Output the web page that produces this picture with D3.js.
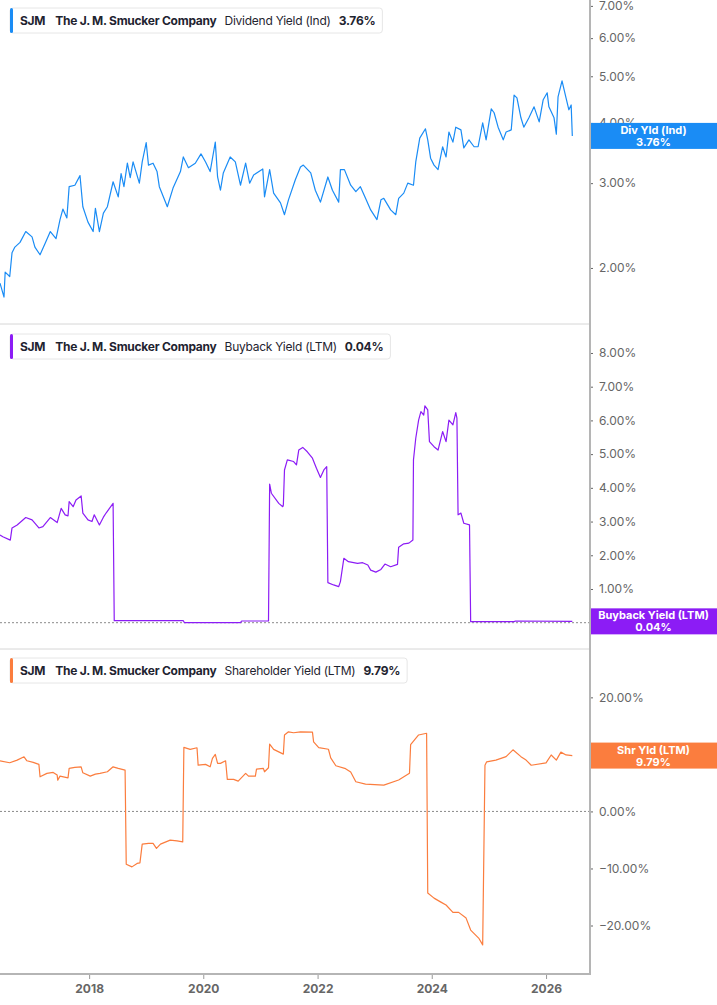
<!DOCTYPE html>
<html>
<head>
<meta charset="utf-8">
<script src="https://cdn.jsdelivr.net/npm/d3@7"></script>
<style>
  body { margin: 0; background: #fff; }
  svg { display: block; font-family: Inter, "Noto Sans", sans-serif; }
</style>
</head>
<body>
<svg id="chart" width="717" height="1005"></svg>
<script>
// data (decimal year, percent)
const divYield = [
  [2016.44, 1.86], [2016.51, 1.74], [2016.53, 1.96], [2016.61, 1.92], [2016.65, 2.15],
  [2016.70, 2.21], [2016.79, 2.26], [2016.89, 2.38], [2017.00, 2.32], [2017.05, 2.21],
  [2017.14, 2.13], [2017.23, 2.25], [2017.32, 2.38], [2017.42, 2.30], [2017.49, 2.52],
  [2017.54, 2.65], [2017.61, 2.54], [2017.65, 2.95], [2017.75, 2.97], [2017.84, 3.11],
  [2017.89, 2.68], [2017.98, 2.49], [2018.07, 2.38], [2018.11, 2.66], [2018.18, 2.38],
  [2018.25, 2.60], [2018.32, 2.68], [2018.42, 3.02], [2018.51, 2.81], [2018.56, 3.14],
  [2018.61, 2.95], [2018.67, 3.30], [2018.72, 3.08], [2018.77, 3.32], [2018.88, 3.00],
  [2018.93, 3.32], [2019.00, 3.64], [2019.04, 3.27], [2019.12, 3.30], [2019.19, 3.17],
  [2019.23, 2.95], [2019.37, 2.68], [2019.47, 2.93], [2019.60, 3.17], [2019.65, 3.40],
  [2019.74, 3.23], [2019.86, 3.30], [2019.96, 3.45], [2020.04, 3.32], [2020.12, 3.17],
  [2020.21, 3.65], [2020.25, 3.09], [2020.30, 2.90], [2020.35, 3.15], [2020.47, 3.40],
  [2020.56, 3.32], [2020.65, 2.97], [2020.74, 3.30], [2020.81, 3.00], [2020.88, 3.12],
  [2021.04, 3.21], [2021.07, 2.81], [2021.16, 3.20], [2021.23, 2.86], [2021.35, 2.73],
  [2021.42, 2.58], [2021.49, 2.77], [2021.61, 3.05], [2021.70, 3.24], [2021.75, 3.27],
  [2021.88, 3.15], [2021.96, 2.90], [2022.05, 2.74], [2022.18, 3.09], [2022.26, 2.90],
  [2022.37, 2.74], [2022.40, 3.20], [2022.47, 3.20], [2022.58, 2.97], [2022.67, 2.88],
  [2022.75, 2.95], [2022.84, 2.79], [2022.93, 2.64], [2023.04, 2.52], [2023.11, 2.77],
  [2023.16, 2.79], [2023.28, 2.64], [2023.37, 2.58], [2023.42, 2.79], [2023.51, 2.86],
  [2023.58, 3.00], [2023.68, 2.97], [2023.72, 3.32], [2023.79, 3.72], [2023.89, 3.89],
  [2023.93, 3.69], [2023.98, 3.38], [2024.04, 3.27], [2024.11, 3.20], [2024.19, 3.57],
  [2024.25, 3.40], [2024.30, 3.83], [2024.37, 3.65], [2024.42, 3.92], [2024.51, 3.87],
  [2024.56, 3.55], [2024.65, 3.69], [2024.74, 3.57], [2024.81, 3.57], [2024.89, 4.00],
  [2024.95, 3.69], [2025.04, 4.28], [2025.09, 4.20], [2025.16, 3.92], [2025.25, 3.69],
  [2025.30, 3.83], [2025.39, 3.87], [2025.44, 4.57], [2025.49, 4.51], [2025.56, 4.10],
  [2025.61, 3.92], [2025.70, 4.10], [2025.79, 4.32], [2025.88, 4.02], [2025.95, 4.47],
  [2026.02, 4.62], [2026.05, 4.32], [2026.14, 4.10], [2026.18, 3.79], [2026.21, 4.53],
  [2026.28, 4.89], [2026.35, 4.51], [2026.40, 4.26], [2026.44, 4.36], [2026.46, 3.76]
];

const buybackYield = [
  [2016.44, 2.60], [2016.49, 2.55], [2016.62, 2.45], [2016.65, 2.81], [2016.74, 2.90],
  [2016.89, 3.12], [2017.00, 3.05], [2017.12, 2.81], [2017.19, 2.85], [2017.32, 3.12],
  [2017.44, 2.97], [2017.51, 3.39], [2017.58, 3.20], [2017.63, 3.17], [2017.65, 3.59],
  [2017.72, 3.44], [2017.77, 3.64], [2017.86, 3.76], [2017.89, 3.25], [2017.98, 3.05],
  [2018.05, 3.00], [2018.09, 3.20], [2018.18, 2.90], [2018.25, 3.13], [2018.30, 3.26],
  [2018.42, 3.54], [2018.44, 0.06], [2019.65, 0.06], [2019.67, 0.00], [2020.65, 0.00],
  [2020.67, 0.05], [2021.14, 0.05], [2021.16, 4.11], [2021.19, 3.84], [2021.32, 3.54],
  [2021.39, 3.44], [2021.40, 3.49], [2021.42, 4.53], [2021.47, 4.83], [2021.58, 4.78],
  [2021.63, 4.68], [2021.67, 5.12], [2021.74, 5.20], [2021.82, 5.07], [2021.91, 4.88],
  [2021.98, 4.58], [2022.05, 4.31], [2022.11, 4.53], [2022.16, 4.63], [2022.18, 1.19],
  [2022.28, 1.12], [2022.37, 1.07], [2022.40, 1.22], [2022.46, 1.91], [2022.54, 1.81],
  [2022.70, 1.76], [2022.79, 1.78], [2022.88, 1.71], [2022.93, 1.56], [2023.02, 1.50],
  [2023.11, 1.58], [2023.18, 1.74], [2023.28, 1.66], [2023.40, 1.73], [2023.42, 2.24],
  [2023.51, 2.34], [2023.60, 2.36], [2023.67, 2.45], [2023.68, 4.83], [2023.72, 5.47],
  [2023.77, 6.01], [2023.81, 6.26], [2023.86, 6.16], [2023.88, 6.43], [2023.93, 6.31],
  [2023.96, 5.37], [2024.04, 5.22], [2024.11, 5.12], [2024.19, 5.67], [2024.25, 5.37],
  [2024.30, 6.01], [2024.37, 5.87], [2024.42, 6.23], [2024.44, 6.07], [2024.46, 3.20],
  [2024.51, 3.25], [2024.56, 2.95], [2024.66, 2.90], [2024.68, 0.03], [2025.44, 0.03],
  [2025.46, 0.05], [2026.46, 0.04]
];

const shareholderYield = [
  [2016.44, 8.88], [2016.61, 8.53], [2016.74, 9.00], [2016.86, 9.58], [2016.91, 8.88],
  [2017.02, 8.60], [2017.12, 8.25], [2017.14, 6.07], [2017.26, 6.67], [2017.37, 6.84],
  [2017.44, 6.37], [2017.45, 5.49], [2017.49, 6.19], [2017.63, 5.89], [2017.65, 7.54],
  [2017.75, 7.72], [2017.86, 7.82], [2017.89, 6.77], [2018.02, 6.19], [2018.11, 6.54],
  [2018.19, 6.67], [2018.32, 6.95], [2018.42, 7.82], [2018.51, 7.54], [2018.63, 7.25],
  [2018.65, -9.25], [2018.75, -9.72], [2018.84, -9.12], [2018.89, -9.02], [2018.93, -5.74],
  [2019.04, -5.61], [2019.12, -5.61], [2019.18, -6.49], [2019.25, -5.74], [2019.42, -5.04],
  [2019.54, -5.16], [2019.64, -5.33], [2019.66, 11.23], [2019.77, 10.88], [2019.89, 11.16],
  [2019.91, 8.12], [2020.04, 8.25], [2020.12, 7.82], [2020.16, 9.30], [2020.21, 10.00],
  [2020.25, 8.42], [2020.30, 8.42], [2020.39, 8.88], [2020.42, 5.61], [2020.53, 5.61],
  [2020.61, 5.32], [2020.74, 6.67], [2020.79, 6.19], [2020.91, 6.19], [2020.93, 7.42],
  [2021.05, 7.54], [2021.07, 6.95], [2021.14, 7.65], [2021.16, 11.81], [2021.23, 10.88],
  [2021.40, 10.05], [2021.42, 13.39], [2021.49, 13.96], [2021.58, 13.79], [2021.70, 13.96],
  [2021.91, 13.90], [2021.93, 12.20], [2022.02, 11.20], [2022.19, 10.90], [2022.23, 9.40],
  [2022.32, 8.00], [2022.49, 7.50], [2022.58, 6.90], [2022.67, 5.20], [2022.84, 4.80],
  [2023.16, 4.60], [2023.42, 5.50], [2023.61, 6.70], [2023.63, 11.70], [2023.77, 13.40],
  [2023.91, 13.70], [2023.93, -14.30], [2024.04, -15.20], [2024.16, -15.90], [2024.25, -16.40],
  [2024.37, -17.70], [2024.47, -17.70], [2024.60, -18.70], [2024.68, -20.80], [2024.82, -22.20],
  [2024.89, -23.40], [2024.93, 8.10], [2024.96, 8.70], [2025.12, 9.00], [2025.30, 9.60],
  [2025.42, 10.80], [2025.56, 9.60], [2025.65, 9.00], [2025.74, 8.10], [2026.00, 8.50],
  [2026.09, 9.90], [2026.18, 9.00], [2026.26, 10.40], [2026.35, 9.90], [2026.46, 9.79]
];

const yearTicks = [2018, 2020, 2022, 2024, 2026];
const divTicks = [2, 3, 4, 5, 6, 7];
const buybackTicks = [0, 1, 2, 3, 4, 5, 6, 7, 8];
const shareholderTicks = [-20, -10, 0, 10, 20];

// decimal year -> Date
function toDate(t) {
  const y = Math.floor(t);
  const a = new Date(y, 0, 1), b = new Date(y + 1, 0, 1);
  return new Date(+a + (t - y) * (b - a));
}

const svg = d3.select("#chart");
const plotRight = 590;

const x = d3.scaleTime()
  .domain([toDate(2016.44), toDate(2026.77)])
  .range([0, plotRight]);

const panels = [
  {
    data: divYield, top: 0, bottom: 324, color: "#1a8cf5",
    y: d3.scaleLog().domain([1.53, 7.2]).range([324, 0]),
    ticks: divTicks, zero: false,
    metric: "Dividend Yield (Ind)", last: "3.76%", badge: "Div Yld (Ind)"
  },
  {
    data: buybackYield, top: 326, bottom: 649, color: "#8c1cf5",
    y: d3.scaleLinear().domain([-0.78, 8.8]).range([649, 326]),
    ticks: buybackTicks, zero: true,
    metric: "Buyback Yield (LTM)", last: "0.04%", badge: "Buyback Yield (LTM)"
  },
  {
    data: shareholderYield, top: 650, bottom: 974, color: "#fb7d3e",
    y: d3.scaleLinear().domain([-28.5, 28.3]).range([974, 650]),
    ticks: shareholderTicks, zero: true,
    metric: "Shareholder Yield (LTM)", last: "9.79%", badge: "Shr Yld (LTM)"
  }
];

panels.forEach(function (p, i) {
  const g = svg.append("g");

  // bottom separator
  g.append("line")
    .attr("x1", 0).attr("x2", plotRight)
    .attr("y1", p.bottom).attr("y2", p.bottom)
    .attr("stroke", i === 2 ? "#b5b5b5" : "#d6d6d6")
    .attr("stroke-width", i === 2 ? 2 : 1);

  if (p.zero) {
    g.append("line")
      .attr("x1", 0).attr("x2", plotRight)
      .attr("y1", p.y(0)).attr("y2", p.y(0))
      .attr("stroke", "#8a8a8a")
      .attr("stroke-dasharray", "2,2");
  }

  // right axis
  const axis = d3.axisRight(p.y)
    .tickValues(p.ticks)
    .tickSize(3)
    .tickFormat(d => d3.format(".2f")(d) + "%");
  const ax = g.append("g")
    .attr("transform", `translate(${plotRight},0)`)
    .call(axis);
  ax.select(".domain").remove();
  ax.selectAll(".tick line").attr("stroke", "#666");
  ax.selectAll(".tick text")
    .attr("x", 9)
    .attr("fill", "#666")
    .style("font-size", "12px")
    .style("font-family", "Inter, sans-serif");

  // the line
  const line = d3.line()
    .x(d => x(toDate(d[0])))
    .y(d => p.y(d[1]));
  g.append("path")
    .datum(p.data)
    .attr("fill", "none")
    .attr("stroke", p.color)
    .attr("stroke-width", 1.2)
    .attr("stroke-linejoin", "round")
    .attr("d", line);

  // last value badge
  const lastVal = p.data[p.data.length - 1][1];
  const by = p.y(lastVal);
  const badge = g.append("g").attr("transform", `translate(${plotRight},${by})`);
  badge.append("rect")
    .attr("x", 0).attr("y", -13)
    .attr("width", 717 - plotRight).attr("height", 26)
    .attr("fill", p.color);
  badge.append("text")
    .attr("x", (717 - plotRight) / 2).attr("y", -2)
    .attr("text-anchor", "middle")
    .attr("fill", "#fff")
    .style("font-size", "11px").style("font-weight", 700)
    .text(p.badge);
  badge.append("text")
    .attr("x", (717 - plotRight) / 2).attr("y", 10)
    .attr("text-anchor", "middle")
    .attr("fill", "#fff")
    .style("font-size", "11px").style("font-weight", 700)
    .text(p.last);

  // legend box
  const lg = g.append("g").attr("transform", `translate(10,${p.top + 8})`);
  const box = lg.append("rect")
    .attr("x", 0).attr("y", 0).attr("height", 25).attr("rx", 3)
    .attr("fill", "#fff").attr("stroke", "#e6e6e6");
  lg.append("rect")
    .attr("x", 0).attr("y", 0).attr("width", 3).attr("height", 25).attr("rx", 1.5)
    .attr("fill", p.color);
  const parts = [
    ["SJM", 700, 10],
    ["The J. M. Smucker Company", 700, 8],
    [p.metric, 400, 8],
    [p.last, 700, 0]
  ];
  let cx = 10;
  parts.forEach(function (pt) {
    const t = lg.append("text")
      .attr("x", cx).attr("y", 16.5)
      .attr("fill", "#1f2430")
      .style("font-size", "12px")
      .style("letter-spacing", "-0.25px")
      .style("font-weight", pt[1])
      .text(pt[0]);
    cx += t.node().getComputedTextLength() + pt[2];
  });
  box.attr("width", cx + 7);
});

// right axis line
svg.append("line")
  .attr("x1", plotRight).attr("x2", plotRight)
  .attr("y1", 0).attr("y2", 975)
  .attr("stroke", "#b5b5b5").attr("stroke-width", 2);

// x axis
const xa = svg.append("g")
  .attr("transform", "translate(0,975)")
  .call(d3.axisBottom(x)
    .tickValues(yearTicks.map(y => new Date(y, 0, 1)))
    .tickSize(4)
    .tickFormat(d3.timeFormat("%Y")));
xa.select(".domain").remove();
xa.selectAll(".tick line").attr("stroke", "#999");
xa.selectAll(".tick text")
  .attr("y", 9)
  .attr("fill", "#666")
  .style("font-size", "12px")
  .style("font-weight", 700)
  .style("font-family", "Inter, sans-serif");
</script>
</body>
</html>
